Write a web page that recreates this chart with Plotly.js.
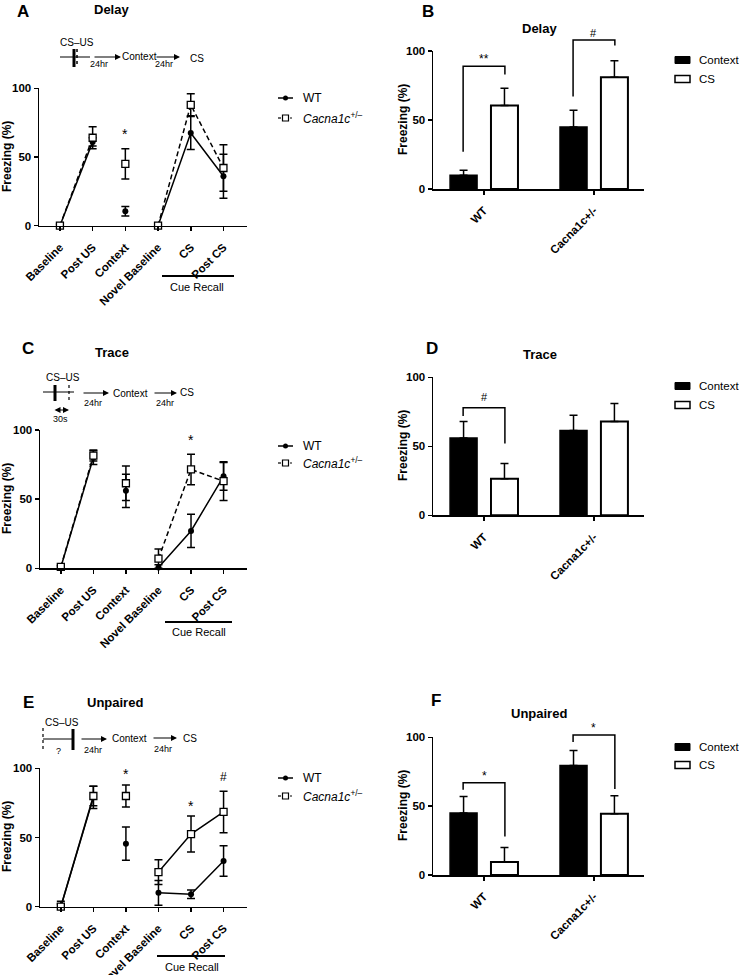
<!DOCTYPE html>
<html>
<head>
<meta charset="utf-8">
<script src="https://cdn.plot.ly/plotly-3.0.1.min.js"></script>
<style>
  html, body { margin: 0; padding: 0; background: #fff; }
  #plot { width: 739px; height: 975px; }
</style>
</head>
<body>
<div id="plot"></div>
<script>
// session categories for the line panels
var cats = ['Baseline', 'Post US', 'Context', 'Novel Baseline', 'CS', 'Post CS'];
// genotypes for the bar panels
var groups = ['WT', 'Cacna1c+/-'];

// A - delay conditioning
var delayWT = [0, 61, 10.5, 0, 67.5, 36];
var delayWTErr = [1, 3, 3.5, 1, 12, 16];
var delayKO = [0, 64, 45, 0, 88, 42];
var delayKOErr = [1, 8, 11, 1, 8, 17];

// C - trace conditioning
var traceWT = [0.7, 80, 56, 0.5, 27, 66.5];
var traceWTErr = [1, 5, 12, 2, 12, 10];
var traceKO = [1, 81.5, 61.5, 7, 71.5, 63];
var traceKOErr = [1, 4, 12.5, 7, 11, 14];

// E - unpaired
var unpWT = [0, 79, 45.5, 10, 9, 33];
var unpWTErr = [4, 8, 12, 9, 3, 11];
var unpKO = [0, 80, 80, 25, 52.5, 68.5];
var unpKOErr = [2, 7, 8, 9, 13, 15];

// B, D, F - context vs CS freezing
var delayCtx = [10, 45];
var delayCtxErr = [3.5, 12];
var delayCS = [60.5, 81];
var delayCSErr = [12.5, 12];
var traceCtx = [56, 61.5];
var traceCtxErr = [12, 11];
var traceCS = [26.5, 68];
var traceCSErr = [11, 13];
var unpCtx = [45, 79.5];
var unpCtxErr = [12, 11];
var unpCS = [9.5, 44.5];
var unpCSErr = [10.5, 13];

var FONT = 'Liberation Sans, Arial, sans-serif';
var W = 739, H = 975;
function px(x) { return x / W; }
function py(y) { return 1 - y / H; }
function suf(n) { return n > 1 ? String(n) : ''; }

var ctxIdx = cats.indexOf('Context');

// line panel: connected sessions + the lone Context point
function sessionTraces(vals, errs, n, ko, dash) {
    var mk = ko ? { symbol: 'square', size: 7, color: 'white', line: { color: 'black', width: 1.3 } }
                : { symbol: 'circle', size: 6, color: 'black' };
    var masked = vals.map(function(v, i) { return i === ctxIdx ? null : v; });
    var base = { xaxis: 'x' + suf(n), yaxis: 'y' + suf(n), type: 'scatter', cliponaxis: false,
                 showlegend: false, hoverinfo: 'skip', marker: mk };
    var t1 = Object.assign({}, base, {
        x: cats, y: masked, mode: 'lines+markers', connectgaps: false,
        line: { color: 'black', width: 1.5, dash: dash },
        error_y: { type: 'data', array: errs, color: 'black', thickness: 1.5, width: 4 }
    });
    var t2 = Object.assign({}, base, {
        x: [cats[ctxIdx]], y: [vals[ctxIdx]], mode: 'markers',
        error_y: { type: 'data', array: [errs[ctxIdx]], color: 'black', thickness: 1.5, width: 4 }
    });
    return [t1, t2];
}

function barTraces(ctx, ctxErr, cs, csErr, n) {
    var zeros = ctx.map(function() { return 0; });
    var common = { x: groups, type: 'bar', xaxis: 'x' + suf(n), yaxis: 'y' + suf(n),
                   showlegend: false, hoverinfo: 'skip', cliponaxis: false };
    return [
        Object.assign({}, common, { name: 'Context', y: ctx,
            marker: { color: 'black', line: { color: 'black', width: 1.5 } },
            error_y: { type: 'data', symmetric: false, array: ctxErr, arrayminus: zeros,
                       color: 'black', thickness: 1.5, width: 4 } }),
        Object.assign({}, common, { name: 'CS', y: cs,
            marker: { color: 'white', line: { color: 'black', width: 2 } },
            error_y: { type: 'data', symmetric: false, array: csErr, arrayminus: zeros,
                       color: 'black', thickness: 1.5, width: 4 } })
    ];
}

var data = []
    .concat(sessionTraces(delayWT, delayWTErr, 1, false, 'solid'))
    .concat(sessionTraces(delayKO, delayKOErr, 1, true, '5px,3px'))
    .concat(barTraces(delayCtx, delayCtxErr, delayCS, delayCSErr, 2))
    .concat(sessionTraces(traceWT, traceWTErr, 3, false, 'solid'))
    .concat(sessionTraces(traceKO, traceKOErr, 3, true, '5px,3px'))
    .concat(barTraces(traceCtx, traceCtxErr, traceCS, traceCSErr, 4))
    .concat(sessionTraces(unpWT, unpWTErr, 5, false, 'solid'))
    .concat(sessionTraces(unpKO, unpKOErr, 5, true, 'solid'))
    .concat(barTraces(unpCtx, unpCtxErr, unpCS, unpCSErr, 6));

var tickFont = { family: FONT, size: 11.5, color: 'black', weight: 700 };

function xAxis(l, r, range, n, arr) {
    return { domain: [px(l), px(r)], anchor: 'y' + suf(n), type: 'category',
             categoryorder: 'array', categoryarray: arr, range: range,
             showline: true, linecolor: 'black', linewidth: 1.5,
             ticks: 'outside', ticklen: 4, tickwidth: 1.5, tickcolor: 'black',
             tickangle: -45, ticklabelstandoff: 5, tickfont: tickFont,
             showgrid: false, zeroline: false, fixedrange: true };
}
function yAxis(t, b, n) {
    return { domain: [py(b), py(t)], anchor: 'x' + suf(n), range: [0, 100], tickvals: [0, 50, 100],
             showline: true, linecolor: 'black', linewidth: 1.5,
             ticks: 'outside', ticklen: 4, tickwidth: 1.5, tickcolor: 'black',
             tickfont: tickFont, showgrid: false, zeroline: false, fixedrange: true };
}

var lineRange = [-0.64, 5.72];
var barRange = [-0.464, 1.455];

var shapes = [];
var annotations = [];

function txt(x, y, s, size, extra) {
    annotations.push(Object.assign({ x: px(x), y: py(y), xref: 'paper', yref: 'paper', text: s,
        showarrow: false, xanchor: 'center', yanchor: 'middle',
        font: { family: FONT, size: size, color: 'black' } }, extra || {}));
}
function seg(x0, y0, x1, y1, w, dash) {
    shapes.push({ type: 'line', xref: 'paper', yref: 'paper', x0: px(x0), y0: py(y0), x1: px(x1), y1: py(y1),
                  line: { color: 'black', width: w, dash: dash || 'solid' } });
}
function arrow(x0, x1, y, both) {
    annotations.push({ x: px(x1), y: py(y), xref: 'paper', yref: 'paper', text: '',
        showarrow: true, ax: x0 - x1, ay: 0, axref: 'pixel', ayref: 'pixel',
        arrowhead: 2, arrowsize: 1, arrowwidth: 1.2, arrowcolor: 'black',
        arrowside: both ? 'end+start' : 'end', standoff: 0, startstandoff: 0 });
}
function bold(x, y, s, size) { txt(x, y, s, size, { font: { family: FONT, size: size, color: 'black', weight: 700 } }); }

// y axis titles
function yTitle(x, y) {
    txt(x, y, 'Freezing (%)', 12, { textangle: -90, font: { family: FONT, size: 12, color: 'black', weight: 700 } });
}
yTitle(7, 157); yTitle(403, 120);
yTitle(7, 499); yTitle(403, 446);
yTitle(7, 837); yTitle(403, 806);

// panel letters and titles
bold(23, 11, 'A', 17); bold(111, 9, 'Delay', 13);
bold(428, 11, 'B', 17); bold(539, 28, 'Delay', 13);
bold(28, 348, 'C', 17); bold(112, 352, 'Trace', 13);
bold(432, 348, 'D', 17); bold(540, 354, 'Trace', 13);
bold(28, 702, 'E', 17); bold(115, 702, 'Unpaired', 13);
bold(436, 700, 'F', 17); bold(539, 713, 'Unpaired', 13);

// protocol sketches
// A delay
txt(77, 42, 'CS–US', 10);
seg(60, 57, 90, 57, 1);
seg(74, 49, 74, 67, 3);
seg(77, 49, 77, 67, 1.5, 'dot');
arrow(93, 121, 57); txt(99, 64, '24hr', 9);
txt(139, 57, 'Context', 10);
arrow(155, 180, 57); txt(164, 64, '24hr', 9);
txt(197, 58, 'CS', 10);
// C trace
txt(63, 377, 'CS–US', 10);
seg(43, 392, 74, 392, 1);
seg(55, 385, 55, 401, 3);
seg(69, 385, 69, 403, 1.2, 'dot');
arrow(53, 69, 410, true); txt(60, 419, '30s', 9);
arrow(82, 109, 393); txt(93, 403, '24hr', 9);
txt(130, 393, 'Context', 10);
arrow(153, 177, 393); txt(165, 403, '24hr', 9);
txt(187, 392, 'CS', 10);
// E unpaired
txt(62, 722, 'CS–US', 10);
seg(43, 728, 43, 749, 1.2, 'dot');
seg(43, 739, 73, 739, 1);
seg(73, 729, 73, 750, 3);
txt(58, 751, '?', 9);
arrow(80, 107, 739); txt(93, 750, '24hr', 9);
txt(129, 738, 'Context', 10);
arrow(152, 177, 738); txt(163, 749, '24hr', 9);
txt(190, 738, 'CS', 10);

// cue recall brackets under the line panels
seg(162, 276, 234, 276, 2); txt(197, 287, 'Cue Recall', 11);
seg(165, 622, 232, 622, 2); txt(199, 632, 'Cue Recall', 11);
seg(157, 956, 225, 956, 2); txt(192, 967, 'Cue Recall', 11);

// legends for line panels
function lineLegend(y1, y2) {
    seg(278, y1, 293, y1, 1.5);
    shapes.push({ type: 'circle', xref: 'paper', yref: 'paper', x0: px(283), x1: px(288), y0: py(y1 + 2.5), y1: py(y1 - 2.5),
                  fillcolor: 'black', line: { color: 'black', width: 0 } });
    txt(301, y1, 'WT', 12, { xanchor: 'left' });
    seg(278, y2, 281, y2, 1.2);
    seg(290, y2, 292, y2, 1.2);
    shapes.push({ type: 'rect', xref: 'paper', yref: 'paper', x0: px(282.5), x1: px(288.5), y0: py(y2 + 3), y1: py(y2 - 3),
                  fillcolor: 'white', line: { color: 'black', width: 1.2 } });
    txt(301, y2, '<i>Cacna1c</i><sup>+/–</sup>', 12, { xanchor: 'left' });
}
lineLegend(98, 118);
lineLegend(446, 463);
lineLegend(778, 796);

// legends for bar panels
function barLegend(y1, y2) {
    shapes.push({ type: 'rect', xref: 'paper', yref: 'paper', x0: px(675), x1: px(690), y0: py(y1 + 3.5), y1: py(y1 - 3.5),
                  fillcolor: 'black', line: { color: 'black', width: 1 } });
    txt(697, y1, 'Context', 11.5, { xanchor: 'left' });
    shapes.push({ type: 'rect', xref: 'paper', yref: 'paper', x0: px(675), x1: px(690), y0: py(y2 + 3.5), y1: py(y2 - 3.5),
                  fillcolor: 'white', line: { color: 'black', width: 1.5 } });
    txt(697, y2, 'CS', 11.5, { xanchor: 'left' });
}
barLegend(60, 79);
barLegend(386, 405);
barLegend(747, 765);

// significance marks on line panels
function mark(n, cat, v, s, size) {
    annotations.push({ x: cat, y: v / 100, xref: 'x' + suf(n), yref: 'y' + suf(n) + ' domain', text: s,
        showarrow: false, xanchor: 'center', yanchor: 'middle',
        font: { family: FONT, size: size, color: 'black' } });
}
mark(1, 'Context', 67, '*', 14);
mark(3, 'CS', 93, '*', 14);
mark(5, 'Context', 96, '*', 14);
mark(5, 'CS', 73, '*', 14);
mark(5, 'Post CS', 94, '#', 12);

// comparison brackets on bar panels
function bracket(n, g, top, lb, rb, s, ly, size) {
    var l = g - 0.19, r = g + 0.19;
    shapes.push({ type: 'path', xref: 'x' + suf(n), yref: 'y' + suf(n) + ' domain',
        path: 'M' + l + ',' + lb / 100 + ' L' + l + ',' + top / 100 + ' L' + r + ',' + top / 100 + ' L' + r + ',' + rb / 100,
        line: { color: 'black', width: 1.5 } });
    annotations.push({ x: g, y: ly / 100, xref: 'x' + suf(n), yref: 'y' + suf(n) + ' domain', text: s,
        showarrow: false, xanchor: 'center', yanchor: 'middle',
        font: { family: FONT, size: size, color: 'black' } });
}
bracket(2, 0, 89, 27, 83, '**', 94, 12);
bracket(2, 1, 108, 67, 104, '#', 113, 11);
bracket(4, 0, 78, 72, 52, '#', 86, 11);
bracket(6, 0, 67, 62, 28, '*', 72, 12);
bracket(6, 1, 101.7, 96.5, 62.5, '*', 107, 12);

var layout = {
    width: W, height: H,
    margin: { l: 0, r: 0, t: 0, b: 0 },
    paper_bgcolor: 'white', plot_bgcolor: 'white',
    font: { family: FONT, color: 'black' },
    showlegend: false, hovermode: false,
    barmode: 'group', bargap: 0.256, bargroupgap: 0.34,
    xaxis: xAxis(39, 247, lineRange, 1, cats), yaxis: yAxis(88.3, 225.7, 1),
    xaxis2: xAxis(433, 644, barRange, 2, groups), yaxis2: yAxis(51, 189, 2),
    xaxis3: xAxis(40, 247, lineRange, 3, cats), yaxis3: yAxis(430, 568.3, 3),
    xaxis4: xAxis(433, 644, barRange, 4, groups), yaxis4: yAxis(377.3, 515.3, 4),
    xaxis5: xAxis(40, 247, lineRange, 5, cats), yaxis5: yAxis(768.3, 906.7, 5),
    xaxis6: xAxis(433, 644, barRange, 6, groups), yaxis6: yAxis(737.3, 875, 6),
    shapes: shapes,
    annotations: annotations
};

Plotly.newPlot('plot', data, layout, { displayModeBar: false, staticPlot: true });
</script>
</body>
</html>
